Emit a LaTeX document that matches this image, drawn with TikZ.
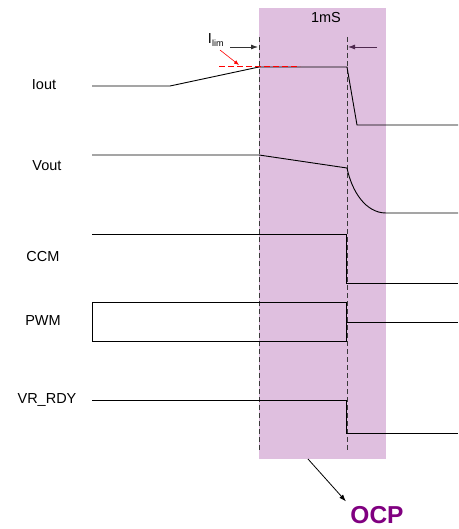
\documentclass[tikz,border=0pt]{standalone}
\usepackage{fontspec}
\setmainfont{Liberation Sans}
\usetikzlibrary{arrows.meta,positioning}
\definecolor{OcpShade}{HTML}{DFBFDF}
\definecolor{OcpPurple}{HTML}{800080}
\definecolor{MarkGray}{HTML}{3A3A3A}

\begin{document}
\begin{tikzpicture}[
  x=1pt,y=-1pt,
  sig/.style={line width=0.9pt,draw=black},
  edgeline/.style={draw=MarkGray,line width=0.7pt,dash pattern=on 5pt off 3pt},
  lbl/.style={font=\fontsize{14.5}{17}\selectfont,inner sep=1pt},
  tip/.style={-{Latex[length=7pt,width=5pt]},line width=0.8pt}
]
\useasboundingbox (0,0) rectangle (458,529);

% Shaded OCP window
\fill[OcpShade] (259,8) rectangle (386,459);
\draw[edgeline] (259,37) -- (259,452);
\draw[edgeline] (347,37) -- (347,450);
\node[lbl] (width) at (326,18) {1mS};

% Window markers
\coordinate (leftedge) at (258,47);
\coordinate (rightedge) at (348,47);
\node[lbl] (ilim) at (216,40) {I\textsubscript{\fontsize{9}{10}\selectfont lim}};
\coordinate (leftstart) at (230,47);
\coordinate (rightstart) at (377,47);
\draw[tip,draw=black!80] (leftstart) -- (leftedge);
\draw[tip,draw=MarkGray!70!OcpPurple] (rightstart) -- (rightedge);

% Signal names
\node[lbl] (iout) at (44,85) {Iout};
\node[lbl] (vout) at (47,166) {Vout};
\node[lbl] (ccm) at (43,257) {CCM};
\node[lbl] (pwm) at (43,321) {PWM};
\node[lbl] (vrrdy) at (47,400) {VR\_RDY};

% Waveforms
\draw[sig] (92,86) -- (170,86) -- (259,67) -- (347,67) -- (357,125) -- (458,125);
\draw[sig] (92,155) -- (259,155) -- (347,168)
  .. controls (352,192) and (366,213) .. (386,213) -- (458,213);
\draw[sig] (92,234) -- (346,234) -- (346,283) -- (458,283);
\draw[sig] (346,322) -- (346,302) -- (92,302) -- (92,341) -- (346,341) -- (346,322) -- (458,322);
\draw[sig] (92,400) -- (346,400) -- (346,433) -- (458,433);

% Current limit level
\draw[red,line width=1pt,dash pattern=on 6pt off 3pt] (219,67) -- (300,67);
\coordinate (limpoint) at (239,65);
\draw[red,-{Latex[length=5pt,width=4pt]},line width=0.6pt] (220,50) -- (limpoint);

% OCP label
\node[font=\fontsize{24.5}{28}\selectfont\bfseries,text=OcpPurple,inner sep=1pt] (ocp) at (377,515) {OCP};
\coordinate (windowbottom) at (308,459);
\draw[tip,shorten >=5pt] (windowbottom) -- (ocp.north west);
\end{tikzpicture}
\end{document}
